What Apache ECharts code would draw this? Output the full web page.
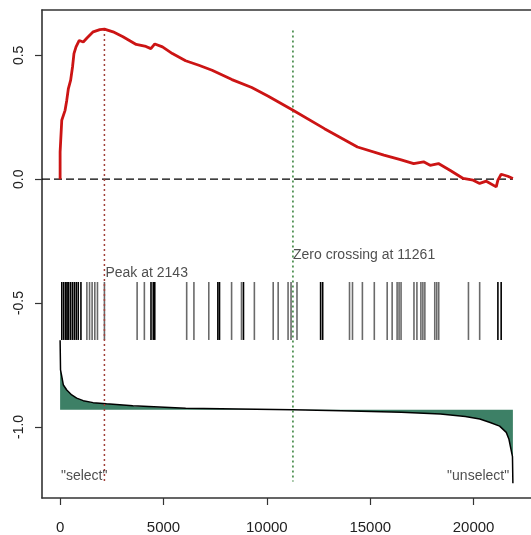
<!DOCTYPE html>
<html>
<head>
<meta charset="utf-8">
<script src="https://cdn.jsdelivr.net/npm/echarts@6/dist/echarts.min.js"></script>
<style>
  html, body { margin: 0; padding: 0; background: #ffffff; }
  #chart { width: 531px; height: 535px; }
</style>
</head>
<body>
<div id="chart"></div>
<script>
// ---------- DATA ----------
const nGenes = 21900;
// running enrichment score (red)
const esX = [0, 0, 80, 80, 240, 320, 400, 510, 600, 670, 770, 925, 1120, 1310, 1600, 1920, 2143, 2560, 3040, 3680, 3725, 4150, 4390, 4580, 4950, 5430, 6070, 6710, 7350, 8310, 9270, 10070, 11266, 12786, 14382, 15662, 16458, 17100, 17580, 17896, 18299, 18855, 19497, 19977, 20293, 20614, 21094, 21175, 21333, 21655, 21900];
const esY = [0, 0.11, 0.11, 0.238, 0.278, 0.318, 0.366, 0.4, 0.453, 0.507, 0.534, 0.56, 0.554, 0.571, 0.595, 0.604, 0.606, 0.595, 0.575, 0.544, 0.55, 0.536, 0.527, 0.546, 0.534, 0.507, 0.478, 0.46, 0.44, 0.402, 0.37, 0.335, 0.278, 0.204, 0.13, 0.097, 0.079, 0.063, 0.07, 0.056, 0.063, 0.036, 0.003, -0.004, -0.017, -0.008, -0.031, -0.004, 0.02, 0.012, 0.003];
// gene set hits (barcode)
const hitsDark = [82, 177, 273, 336, 398, 494, 590, 686, 781, 877, 1007, 4396, 4506, 4578, 7630, 7710, 8869, 12600, 12700, 21175, 21333];
const hitsGray = [1294, 1424, 1548, 1678, 1807, 2143, 3725, 4075, 6122, 6472, 7191, 8294, 8773, 9396, 10307, 10547, 11026, 11170, 11457, 13998, 14142, 14621, 15197, 15820, 16060, 16300, 16395, 16491, 17115, 17258, 17450, 17546, 17642, 18121, 18217, 18313, 19751, 20293];
const barcodeTop = -0.415;
const barcodeBottom = -0.649;
// ranked list metric (scaled into plot units), baseline
const metricBaseline = -0.931;
const metricX = [0, 20, 82, 158, 321, 561, 801, 1117, 1596, 2239, 3514, 3600, 6074, 6100, 9500, 11261, 13600, 16500, 18400, 19600, 20300, 20800, 21260, 21580, 21710, 21880, 21900];
const metricY = [-0.65, -0.77, -0.797, -0.831, -0.851, -0.871, -0.884, -0.894, -0.902, -0.907, -0.915, -0.918, -0.925, -0.927, -0.929, -0.931, -0.935, -0.941, -0.948, -0.958, -0.968, -0.982, -0.997, -1.022, -1.05, -1.12, -1.227];
// markers
const peakPos = 2143;
const peakES = 0.606;
const zeroCross = 11261;
const vlineBottom = -1.22;
// annotations
const annotText = ['Peak at 2143', 'Zero crossing at 11261', '"select"', '"unselect"'];
const annotX = [2191, 11266, 40, 21720];
const annotY = [-0.379, -0.306, -1.2, -1.2];
// axes
const xTicks = [0, 5000, 10000, 15000, 20000];
const yTicks = [-1.0, -0.5, 0.0, 0.5];
const xMin = -876, xMax = 22776;
const yMin = -1.287, yMax = 0.683;

// ---------- CHART ----------
const chart = echarts.init(document.getElementById('chart'), null, { renderer: 'canvas' });
const font = 'Liberation Sans, Arial, sans-serif';
const frameColor = '#333333';

function barcodeSeries(hits, color) {
  return {
    type: 'custom',
    silent: true,
    z: 3,
    data: hits.map(v => [v, barcodeTop, barcodeBottom]),
    encode: { x: 0, y: [1, 2] },
    renderItem: function (params, api) {
      const p1 = api.coord([api.value(0), api.value(1)]);
      const p2 = api.coord([api.value(0), api.value(2)]);
      return {
        type: 'line',
        shape: { x1: p1[0], y1: p1[1], x2: p2[0], y2: p2[1] },
        style: { stroke: color, lineWidth: 1.6 }
      };
    }
  };
}

const option = {
  animation: false,
  backgroundColor: '#ffffff',
  grid: { left: 42, top: 10, width: 493, height: 488, show: false },
  xAxis: [
    {
      type: 'value', min: xMin, max: xMax, position: 'bottom',
      splitLine: { show: false },
      axisLine: { show: true, onZero: false, lineStyle: { color: frameColor, width: 1.6 } },
      axisTick: { show: true, length: 7, customValues: xTicks, lineStyle: { color: '#333', width: 1.2 } },
      axisLabel: { customValues: xTicks, margin: 22, fontSize: 15, color: '#222', fontFamily: font,
                   formatter: v => String(v) }
    },
    {
      type: 'value', min: xMin, max: xMax, position: 'top',
      splitLine: { show: false },
      axisLine: { show: true, onZero: false, lineStyle: { color: frameColor, width: 1.6 } },
      axisTick: { show: false }, axisLabel: { show: false }
    }
  ],
  yAxis: {
    type: 'value', min: yMin, max: yMax, position: 'left',
    splitLine: { show: false },
    axisLine: { show: true, onZero: false, lineStyle: { color: frameColor, width: 1.6 } },
    axisTick: { show: true, length: 7, customValues: yTicks, lineStyle: { color: '#333', width: 1.2 } },
    axisLabel: {
      customValues: yTicks, rotate: 90, margin: 16, fontSize: 14, color: '#222', fontFamily: font,
      formatter: v => v.toFixed(1)
    }
  },
  series: [
    {
      // metric area fill between curve and baseline
      type: 'custom',
      silent: true,
      z: 1,
      data: [[0, metricBaseline]],
      encode: { x: 0, y: 1 },
      renderItem: function (params, api) {
        const pts = [api.coord([metricX[0], metricBaseline])];
        for (let i = 0; i < metricX.length; i++) pts.push(api.coord([metricX[i], metricY[i]]));
        pts.push(api.coord([metricX[metricX.length - 1], metricBaseline]));
        return { type: 'polygon', shape: { points: pts }, style: { fill: '#3d8066' } };
      }
    },
    {
      // metric curve
      type: 'line',
      data: metricX.map((x, i) => [x, metricY[i]]),
      symbol: 'none',
      lineStyle: { color: '#000', width: 1.5 },
      z: 2
    },
    {
      // zero dashed line
      type: 'line',
      data: [[xMin, 0], [nGenes, 0]],
      symbol: 'none',
      lineStyle: { color: '#000', width: 1.3, type: [8, 4] },
      z: 2
    },
    barcodeSeries(hitsGray, '#6a6a6a'),
    barcodeSeries(hitsDark, '#000000'),
    {
      // peak line
      type: 'line',
      data: [[peakPos, peakES], [peakPos, vlineBottom]],
      symbol: 'none',
      lineStyle: { color: '#a0403a', width: 1.5, type: [2, 3] },
      z: 4
    },
    {
      // zero crossing line
      type: 'line',
      data: [[zeroCross, 0.6], [zeroCross, vlineBottom]],
      symbol: 'none',
      lineStyle: { color: '#2e7d32', width: 1.5, type: [2, 3] },
      z: 4
    },
    {
      // running ES
      type: 'line',
      data: esX.map((x, i) => [x, esY[i]]),
      symbol: 'none',
      lineStyle: { color: '#cc1414', width: 2.8 },
      z: 5
    },
    {
      type: 'scatter',
      symbolSize: 0,
      silent: true,
      z: 6,
      data: annotText.map((t, i) => ({
        value: [annotX[i], annotY[i]],
        label: {
          show: true,
          formatter: t,
          position: i === 3 ? 'left' : 'right',
          distance: 0,
          fontSize: 14,
          color: '#222',
          fontFamily: font
        }
      }))
    }
  ]
};
chart.setOption(option);
</script>
</body>
</html>
